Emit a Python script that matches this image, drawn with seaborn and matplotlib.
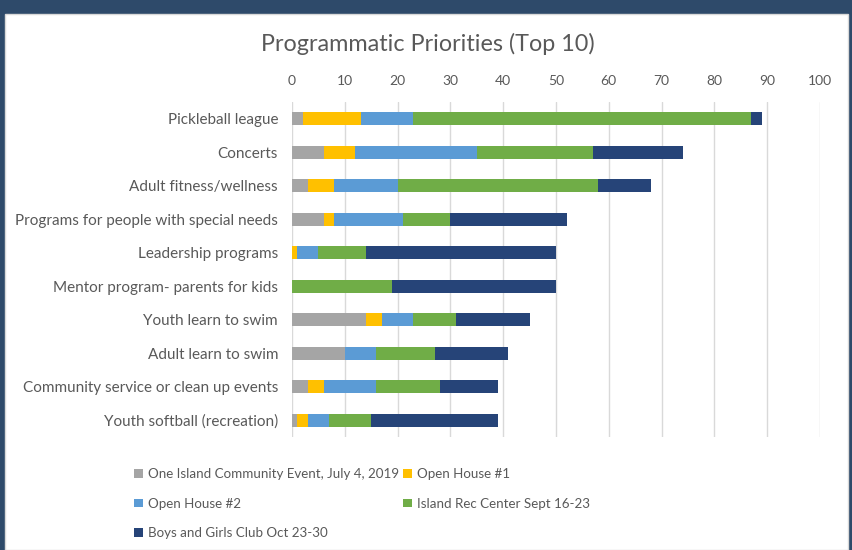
import matplotlib
matplotlib.use("Agg")
import matplotlib.pyplot as plt
import matplotlib.patches as mpatches
import seaborn as sns
import pandas as pd
import numpy as np

categories = [
    "Pickleball league",
    "Concerts",
    "Adult fitness/wellness",
    "Programs for people with special needs",
    "Leadership programs",
    "Mentor program- parents for kids",
    "Youth learn to swim",
    "Adult learn to swim",
    "Community service or clean up events",
    "Youth softball (recreation)",
]
series_names = [
    "One Island Community Event, July 4, 2019",
    "Open House #1",
    "Open House #2",
    "Island Rec Center Sept 16-23",
    "Boys and Girls Club Oct 23-30",
]
one_island = [2, 6, 3, 6, 0, 0, 14, 10, 3, 1]
open_house_1 = [11, 6, 5, 2, 1, 0, 3, 0, 3, 2]
open_house_2 = [10, 23, 12, 13, 4, 0, 6, 6, 10, 4]
island_rec = [64, 22, 38, 9, 9, 19, 8, 11, 12, 8]
boys_girls = [2, 17, 10, 22, 36, 31, 14, 14, 11, 24]
xticks = [0, 10, 20, 30, 40, 50, 60, 70, 80, 90, 100]

colors = ["#A5A5A5", "#FFC000", "#5B9BD5", "#70AD47", "#264478"]
text_color = "#595959"

sns.set_theme(style="white")
plt.rcParams["font.family"] = ["Lato", "DejaVu Sans"]

values = np.array([one_island, open_house_1, open_house_2, island_rec, boys_girls], dtype=float)
cum = np.cumsum(values, axis=0)

fig = plt.figure(figsize=(8.53, 5.5), dpi=100)
fig.patch.set_facecolor("#2E4A6A")
panel = mpatches.Rectangle((5 / 853, 0), (848 - 5) / 853, 1 - 14 / 550,
                           transform=fig.transFigure, facecolor="white",
                           edgecolor="#D9D9D9", linewidth=1, zorder=-10)
fig.patches.append(panel)

ax = fig.add_axes([292 / 853, 1 - 437 / 550, (820 - 292) / 853, (437 - 102) / 550])
ax.set_facecolor("none")
ax.set_zorder(5)

# draw cumulative totals from the last series to the first so each layer covers the next
for i in range(len(series_names) - 1, -1, -1):
    df = pd.DataFrame({"category": categories, "value": cum[i]})
    sns.barplot(data=df, y="category", x="value", orient="h", color=colors[i],
                saturation=1, width=0.4, ax=ax, zorder=3, linewidth=0)

ax.set_xlim(0, 100)
ax.set_ylim(len(categories) - 0.5, -0.5)
ax.set_xticks(xticks)
ax.xaxis.tick_top()
ax.tick_params(axis="x", length=0, pad=11, labelsize=10, labelcolor=text_color)
ax.tick_params(axis="y", length=0, pad=10, labelsize=11, labelcolor=text_color)
ax.set_xlabel("")
ax.set_ylabel("")
ax.grid(axis="x", color="#D9D9D9", linewidth=1, zorder=0)
ax.set_axisbelow(True)
for s in ax.spines.values():
    s.set_visible(False)

fig.text(0.5 * (261 + 594) / 853, 1 - 44 / 550, "Programmatic Priorities (Top 10)",
         ha="center", va="center", fontsize=16.8, color=text_color)

handles = [mpatches.Patch(facecolor=c, edgecolor="none") for c in colors]
order = [0, 2, 4, 1, 3]
leg = fig.legend([handles[k] for k in order], [series_names[k] for k in order],
                 ncol=2, loc="upper left", bbox_to_anchor=(129 / 853, 1 - 463 / 550),
                 frameon=False, fontsize=9.6, labelcolor=text_color,
                 handlelength=0.65, handleheight=0.65, handletextpad=0.4,
                 columnspacing=0.3, labelspacing=1.3, borderaxespad=0)

fig.savefig("out.png", dpi=100, facecolor=fig.get_facecolor())
